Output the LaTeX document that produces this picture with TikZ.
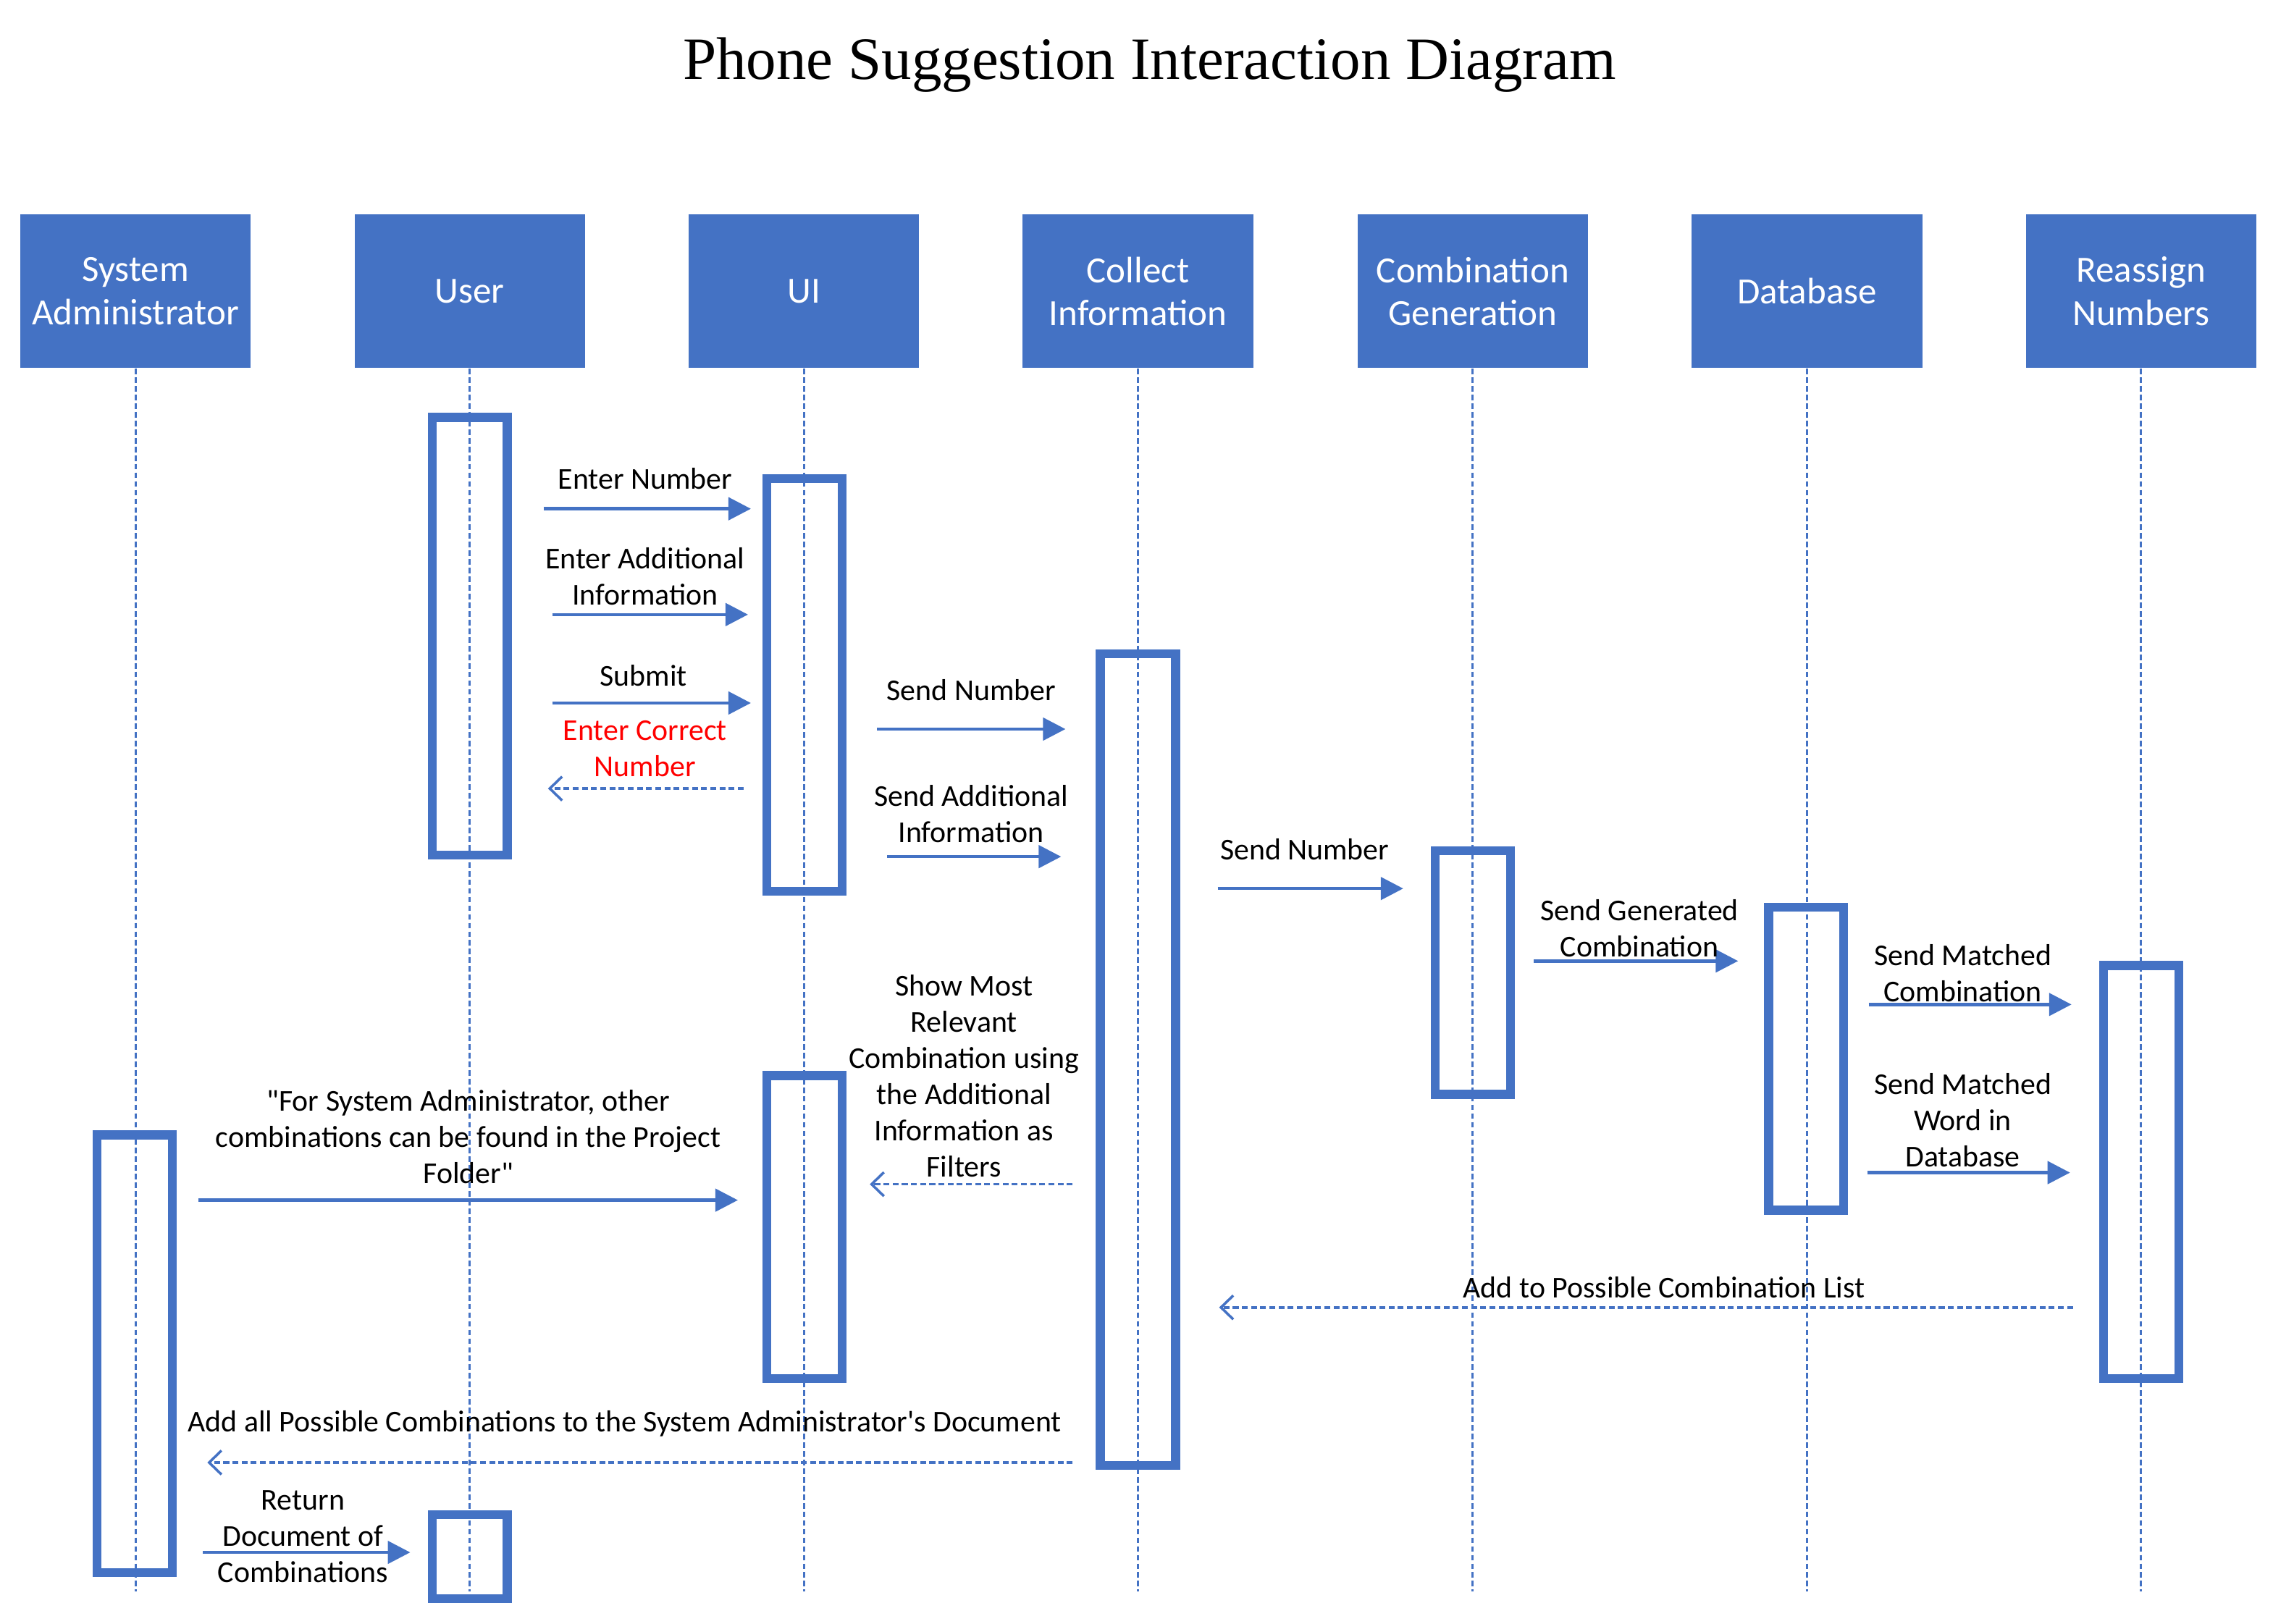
\documentclass[tikz,border=0pt]{standalone}
\usepackage{fontspec}
\setmainfont{Carlito}
\newfontfamily\titlefont{Liberation Serif}
\usetikzlibrary{arrows.meta}
\definecolor{officeblue}{HTML}{4472C4}
\begin{document}
\begin{tikzpicture}[x=0.02cm,y=-0.02cm,
    actor/.style={fill=officeblue,text=white,minimum width=3.18cm,minimum height=2.12cm,
      align=center,inner sep=0pt,font=\fontsize{14.5}{17}\selectfont},
    life/.style={draw=officeblue,line width=0.85pt,dash pattern=on 2.2pt off 1.2pt},
    act/.style={draw=officeblue,line width=3.5pt,minimum width=1.037cm,inner sep=0pt},
    msg/.style={draw=officeblue,line width=1.3pt,-{Triangle[length=0.31cm,width=0.31cm]}},
    reply/.style={draw=officeblue,line width=1pt,dash pattern=on 2.3pt off 1.3pt,
      -{Straight Barb[length=0.17cm,width=0.33cm]}},
    lbl/.style={align=center,inner sep=0pt,font=\fontsize{11.9}{14.2}\selectfont}]
  \useasboundingbox (0,0) rectangle (1568,1120);
  \node[font=\titlefont\fontsize{23.6}{28}\selectfont] (title) at (793,45)
    {Phone Suggestion Interaction Diagram};
  \node[actor] (sa) at (93.5,201) {System\\Administrator};
  \node[actor] (usr) at (324,201) {User};
  \node[actor] (ui) at (554.5,201) {UI};
  \node[actor] (coll) at (785,201) {Collect\\Information};
  \node[actor] (comb) at (1016,201) {Combination\\Generation};
  \node[actor] (db) at (1246.5,201) {Database};
  \node[actor] (reas) at (1477,201) {Reassign\\Numbers};
  \coordinate (saend) at (93.5,1098);
  \coordinate (usrend) at (324,1098);
  \coordinate (uiend) at (554.5,1098);
  \coordinate (collend) at (785,1098);
  \coordinate (combend) at (1016,1098);
  \coordinate (dbend) at (1246.5,1098);
  \coordinate (reasend) at (1477,1098);
  \begin{scope}[life]
    \draw (sa) to (saend);
    \draw (usr) to (usrend);
    \draw (ui) to (uiend);
    \draw (coll) to (collend);
    \draw (comb) to (combend);
    \draw (db) to (dbend);
    \draw (reas) to (reasend);
  \end{scope}
  \node[act,minimum height=6.04cm] (usract1) at (324,439) {};
  \node[act,minimum height=5.70cm] (uiact1) at (555,472.5) {};
  \node[act,minimum height=11.20cm] (collact) at (785,731) {};
  \node[act,minimum height=3.36cm] (combact) at (1016,671) {};
  \node[act,minimum height=4.18cm] (dbact) at (1246,730.5) {};
  \node[act,minimum height=5.70cm] (reasact) at (1477,808.5) {};
  \node[act,minimum height=4.18cm] (uiact2) at (555,846.5) {};
  \node[act,minimum height=6.04cm] (saact) at (93,934) {};
  \node[act,minimum height=1.16cm] (usract2) at (324,1074) {};
  \coordinate (m1a) at (375,351);   \coordinate (m1b) at (518,351);
  \coordinate (m2a) at (381,424);   \coordinate (m2b) at (516,424);
  \coordinate (m3a) at (381,485);   \coordinate (m3b) at (518,485);
  \coordinate (m4a) at (513,544);   \coordinate (m4b) at (378,544);
  \coordinate (m5a) at (605,503);   \coordinate (m5b) at (735,503);
  \coordinate (m6a) at (612,591);   \coordinate (m6b) at (732,591);
  \coordinate (m7a) at (840,613);   \coordinate (m7b) at (968,613);
  \coordinate (m8a) at (1058,663);  \coordinate (m8b) at (1199,663);
  \coordinate (m9a) at (1289,693);  \coordinate (m9b) at (1429,693);
  \coordinate (m10a) at (1288,809); \coordinate (m10b) at (1428,809);
  \coordinate (m11a) at (1430,902); \coordinate (m11b) at (841,902);
  \coordinate (m12a) at (740,817);  \coordinate (m12b) at (600,817);
  \coordinate (m13a) at (137,828);  \coordinate (m13b) at (509,828);
  \coordinate (m14a) at (740,1009); \coordinate (m14b) at (143,1009);
  \coordinate (m15a) at (140,1071); \coordinate (m15b) at (283,1071);
  \begin{scope}[msg]
    \draw (m1a) to (m1b);
    \draw (m2a) to (m2b);
    \draw (m3a) to (m3b);
    \draw (m5a) to (m5b);
    \draw (m6a) to (m6b);
    \draw (m7a) to (m7b);
    \draw (m8a) to (m8b);
    \draw (m9a) to (m9b);
    \draw (m10a) to (m10b);
    \draw (m13a) to (m13b);
    \draw (m15a) to (m15b);
  \end{scope}
  \begin{scope}[reply]
    \draw (m4a) to (m4b);
    \draw (m11a) to (m11b);
    \draw (m12a) to (m12b);
    \draw (m14a) to (m14b);
  \end{scope}
  \node[lbl] (l1) at (445,330) {Enter Number};
  \node[lbl] (l2) at (445,397.5) {Enter Additional\\Information};
  \node[lbl] (l3) at (444,466) {Submit};
  \node[lbl,text=red] (l4) at (445,516.5) {Enter Correct\\Number};
  \node[lbl] (l5) at (670,476) {Send Number};
  \node[lbl] (l6) at (670,561.5) {Send Additional\\Information};
  \node[lbl] (l7) at (900,586) {Send Number};
  \node[lbl] (l8) at (1131,640.5) {Send Generated\\Combination};
  \node[lbl] (l9) at (1354,671.5) {Send Matched\\Combination};
  \node[lbl] (l10) at (1354,773) {Send Matched\\Word in\\Database};
  \node[lbl] (l11) at (1148,888) {Add to Possible Combination List};
  \node[lbl] (l12) at (665,742.5) {Show Most\\Relevant\\Combination using\\the Additional\\Information as\\Filters};
  \node[lbl] (l13) at (323,784.5) {\textquotedbl For System Administrator, other\\combinations can be found in the Project\\Folder\textquotedbl};
  \node[lbl] (l14) at (431,982) {Add all Possible Combinations to the System Administrator\textquotesingle s Document};
  \node[lbl] (l15) at (209,1060) {Return\\Document of\\Combinations};
\end{tikzpicture}
\end{document}
